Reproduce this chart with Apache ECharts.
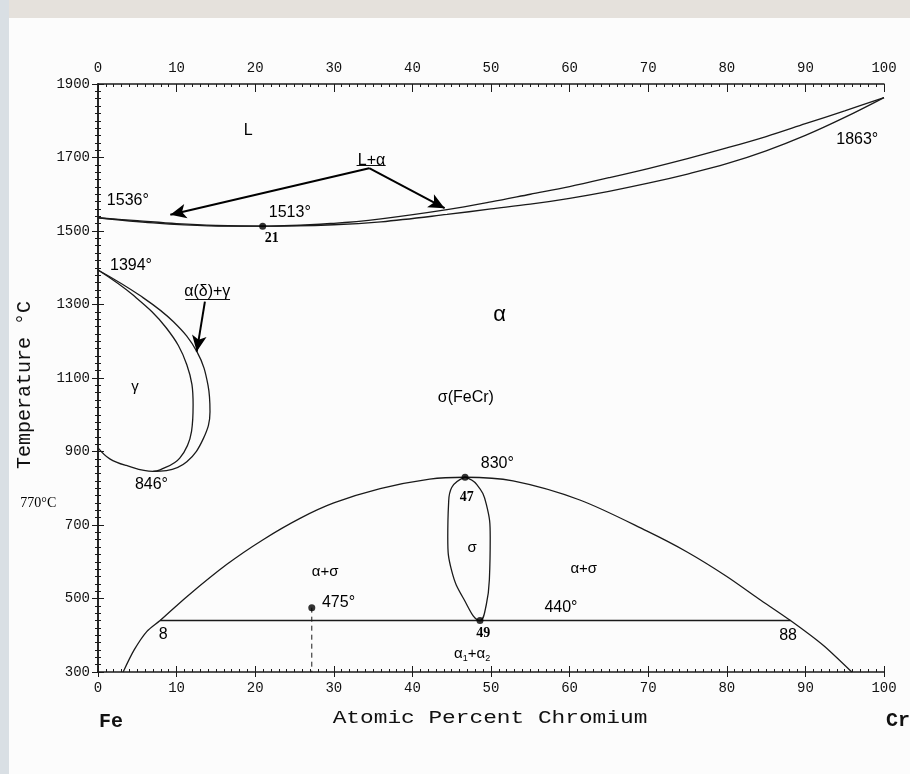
<!DOCTYPE html>
<html>
<head>
<meta charset="utf-8">
<style>
  html, body { margin: 0; padding: 0; background: #fcfcfc; }
  #main { width: 910px; height: 774px; }
</style>
<script src="https://cdn.jsdelivr.net/npm/echarts@6/dist/echarts.min.js"></script>
</head>
<body>
<div id="main"></div>
<script>
// Fe-Cr phase diagram (at.% Cr vs temperature)

const liquidus = [[0, 1536], [5, 1528], [10, 1520], [15, 1515], [21, 1513], [30, 1521], [36, 1533], [44.4, 1558], [50, 1579], [55, 1600], [60, 1621], [65, 1645], [70, 1670], [75, 1697], [80, 1726], [85, 1757], [90, 1792], [95, 1827], [100, 1863]];
const solidus = [[0, 1536], [7, 1522], [14, 1514], [21, 1513], [30, 1517], [36, 1525], [44.4, 1545], [50, 1560], [55, 1573], [60, 1589], [65, 1608], [70, 1630], [75, 1655], [80, 1683], [85, 1718], [90, 1760], [95, 1809], [100, 1863]];

const gammaInner = [[0, 1394], [4.5, 1325], [8.7, 1236], [11.3, 1136], [12.1, 1027], [11.9, 955], [10.4, 882], [7.9, 850], [7, 846], [3.6, 862], [1.5, 880], [0, 910]];
const gammaOuter = [[0, 1394], [5.3, 1325], [9.6, 1253], [12.6, 1171], [14.0, 1080], [14.25, 1008], [13.4, 935], [11.3, 872], [8.7, 848], [7, 846]];

const sigmaDome = [[3.2, 300], [4.6, 360], [6.2, 410], [7.9, 440], [11.3, 505], [16.4, 593], [21, 660], [25.7, 718], [30, 760], [35.9, 799], [42.2, 825], [46.7, 830], [52.8, 820], [61.3, 768], [69.8, 684], [75, 626], [80, 560], [84, 500], [88.1, 440], [92.3, 372], [95.9, 300]];
const sigmaLens = [[46.7, 830], [45.0, 802], [44.6, 757], [44.5, 665], [45.0, 575], [46.5, 500], [48.6, 440], [49.4, 483], [49.8, 555], [49.9, 665], [49.4, 757], [48.2, 810], [46.7, 830]];

const tieLine440 = [[7.9, 440], [88.1, 440]];
const drop475 = [[27.2, 475], [27.2, 300]];
const specialPoints = [[20.95, 1513], [46.7, 830], [48.6, 440], [27.2, 475]];

const arrows = [
  [[34.5, 1671], [9.2, 1544]],
  [[34.5, 1671], [44.1, 1562]],
  [[13.6, 1308], [12.56, 1172]]
];
const underlines = [
  [[32.9, 1680], [36.6, 1680]],
  [[11.1, 1315], [16.8, 1315]]
];

// [x, T, text, style]
const labels = [
  [19.1, 1772, 'L', 'sans'],
  [34.8, 1692, 'L+α', 'sans'],
  [3.8, 1584, '1536°', 'sans'],
  [24.4, 1549, '1513°', 'sans'],
  [22.1, 1481, '21', 'bold'],
  [96.6, 1750, '1863°', 'sans'],
  [4.2, 1405, '1394°', 'sans'],
  [13.9, 1334, 'α(δ)+γ', 'sans'],
  [4.7, 1077, 'γ', 'small'],
  [51.1, 1271, 'α', 'big'],
  [46.8, 1046, 'σ(FeCr)', 'sans'],
  [6.8, 809, '846°', 'sans'],
  [-7.6, 760, '770°C', 'serif'],
  [50.8, 866, '830°', 'sans'],
  [46.9, 776, '47', 'bold'],
  [47.6, 637, 'σ', 'small'],
  [28.9, 572, 'α+σ', 'small'],
  [61.8, 580, 'α+σ', 'small'],
  [30.6, 488, '475°', 'sans'],
  [58.9, 474, '440°', 'sans'],
  [8.3, 401, '8', 'sans'],
  [49.0, 406, '49', 'bold'],
  [87.8, 398, '88', 'sans'],
  [47.6, 349, '{a|α}{s|1}{a|+α}{s|2}', 'rich']
];

const labelStyles = {
  sans: { fontFamily: 'Liberation Sans', fontSize: 16 },
  small: { fontFamily: 'Liberation Sans', fontSize: 15 },
  big: { fontFamily: 'Liberation Sans', fontSize: 22 },
  bold: { fontFamily: 'Liberation Serif', fontSize: 14, fontWeight: 'bold' },
  serif: { fontFamily: 'Liberation Serif', fontSize: 14 },
  rich: {
    rich: {
      a: { fontFamily: 'Liberation Sans', fontSize: 15, color: '#000', lineHeight: 18 },
      s: { fontFamily: 'Liberation Sans', fontSize: 9, color: '#000', verticalAlign: 'bottom', lineHeight: 18 }
    }
  }
};

const INK = '#1a1a1a';
const tickFont = { fontFamily: 'Liberation Mono', fontSize: 14, color: '#111', formatter: v => String(v) };

const chart = echarts.init(document.getElementById('main'), null, { renderer: 'canvas' });

function curve(name, data, extra) {
  return Object.assign({
    name: name,
    type: 'line',
    data: data,
    showSymbol: false,
    smooth: 0.35,
    silent: true,
    lineStyle: { color: INK, width: 1.3 },
    z: 3
  }, extra || {});
}

const xBase = { type: 'value', min: 0, max: 100, interval: 10, splitLine: { show: false } };
const yBase = { type: 'value', min: 300, max: 1900, interval: 200, splitLine: { show: false } };

const option = {
  animation: false,
  backgroundColor: '#fcfcfc',
  grid: { left: 98, right: 26, top: 84, bottom: 102, outerBoundsMode: 'none' },
  xAxis: [
    Object.assign({}, xBase, {
      position: 'bottom',
      axisLine: { lineStyle: { color: INK, width: 1.5 } },
      axisTick: { inside: false, length: 5, lineStyle: { color: INK } },
      minorTick: { show: false },
      axisLabel: Object.assign({ margin: 9 }, tickFont)
    }),
    Object.assign({}, xBase, {
      position: 'bottom',
      axisLine: { show: false },
      axisTick: { inside: true, length: 6, lineStyle: { color: INK } },
      minorTick: { show: true, splitNumber: 10, length: 3, lineStyle: { color: INK } },
      axisLabel: { show: false }
    }),
    Object.assign({}, xBase, {
      position: 'top',
      axisLine: { lineStyle: { color: INK, width: 1.5 } },
      axisTick: { inside: true, length: 8, lineStyle: { color: INK } },
      minorTick: { show: true, splitNumber: 10, length: 3, lineStyle: { color: INK } },
      axisLabel: Object.assign({ margin: 9 }, tickFont)
    })
  ],
  yAxis: [
    Object.assign({}, yBase, {
      position: 'left',
      axisLine: { lineStyle: { color: INK, width: 1.5 } },
      axisTick: { inside: false, length: 6, lineStyle: { color: INK } },
      minorTick: { show: true, splitNumber: 10, length: 3, lineStyle: { color: INK } },
      axisLabel: Object.assign({ margin: 8 }, tickFont)
    }),
    Object.assign({}, yBase, {
      position: 'left',
      axisLine: { show: false },
      axisTick: { inside: true, length: 3, lineStyle: { color: INK } },
      minorTick: { show: true, splitNumber: 10, length: 3, lineStyle: { color: INK } },
      axisLabel: { show: false }
    }),
    Object.assign({}, yBase, {
      position: 'right',
      axisLine: { lineStyle: { color: INK, width: 1.5 } },
      axisTick: { inside: false, length: 6, lineStyle: { color: INK } },
      minorTick: { show: true, splitNumber: 10, length: 3, lineStyle: { color: INK } },
      axisLabel: { show: false }
    })
  ],
  series: [
    curve('liquidus', liquidus),
    curve('solidus', solidus),
    curve('gamma inner', gammaInner, { smooth: 0.4 }),
    curve('gamma outer', gammaOuter, { smooth: 0.4 }),
    curve('sigma dome', sigmaDome, { smooth: 0.3 }),
    curve('sigma lens', sigmaLens, { smooth: 0.45 }),
    curve('440 tie line', tieLine440, { smooth: false, lineStyle: { color: INK, width: 1.6 } }),
    curve('475 drop', drop475, { smooth: false, lineStyle: { color: INK, width: 1, type: [5, 4] } }),
    {
      name: 'arrows',
      type: 'line',
      data: [],
      silent: true,
      markLine: {
        silent: true,
        animation: false,
        symbol: ['none', 'arrow'],
        symbolSize: [11, 16],
        label: { show: false },
        lineStyle: { color: '#000', width: 2, type: 'solid' },
        data: arrows.map(a => [{ coord: a[0] }, { coord: a[1] }])
      }
    },
    {
      name: 'underlines',
      type: 'line',
      data: [],
      silent: true,
      markLine: {
        silent: true,
        animation: false,
        symbol: ['none', 'none'],
        label: { show: false },
        lineStyle: { color: '#111', width: 1, type: 'solid' },
        data: underlines.map(a => [{ coord: a[0] }, { coord: a[1] }])
      }
    },
    {
      name: 'points',
      type: 'scatter',
      data: specialPoints,
      symbolSize: 7,
      silent: true,
      itemStyle: { color: '#000' },
      z: 5
    },
    {
      name: 'labels',
      type: 'scatter',
      clip: false,
      silent: true,
      symbolSize: 0,
      data: labels.map(l => ({
        value: [l[0], l[1]],
        label: Object.assign({
          show: true,
          position: [0, 0],
          align: 'center',
          verticalAlign: 'middle',
          color: '#000',
          opacity: 1,
          formatter: l[2]
        }, labelStyles[l[3]])
      })),
      z: 6
    }
  ],
  graphic: [
    { type: 'rect', shape: { x: 0, y: 0, width: 910, height: 18 }, style: { fill: '#e5e1dc' }, silent: true, z: -10 },
    { type: 'rect', shape: { x: 0, y: 0, width: 9, height: 774 }, style: { fill: '#d9dfe4' }, silent: true, z: -10 },
    {
      type: 'text', x: 490, y: 718, scaleX: 1.2, silent: true,
      style: { text: 'Atomic Percent Chromium', font: '19px "Liberation Mono"', fill: '#111', align: 'center', verticalAlign: 'middle' }
    },
    {
      type: 'text', x: 25, y: 385, rotation: Math.PI / 2, silent: true,
      style: { text: 'Temperature °C', font: '20px "Liberation Mono"', fill: '#111', align: 'center', verticalAlign: 'middle' }
    },
    {
      type: 'text', x: 111, y: 722, silent: true,
      style: { text: 'Fe', font: 'bold 20px "Liberation Mono"', fill: '#111', align: 'center', verticalAlign: 'middle' }
    },
    {
      type: 'text', x: 898, y: 721, silent: true,
      style: { text: 'Cr', font: 'bold 20px "Liberation Mono"', fill: '#111', align: 'center', verticalAlign: 'middle' }
    }
  ]
};

chart.setOption(option);
</script>
</body>
</html>
